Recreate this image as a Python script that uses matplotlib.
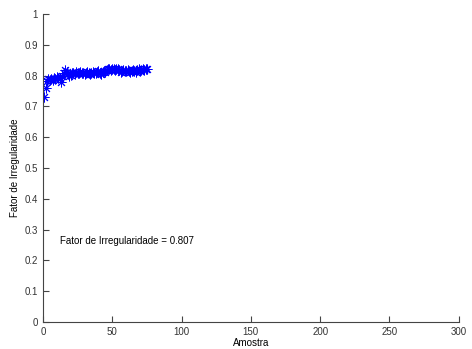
import numpy as np
import matplotlib
matplotlib.use("Agg")
import matplotlib.pyplot as plt

amostra = np.arange(1, 76)
fator = [0.730, 0.760, 0.783, 0.788, 0.785, 0.790, 0.787, 0.792, 0.790, 0.795,
         0.793, 0.792, 0.780, 0.800, 0.808, 0.818, 0.812, 0.805, 0.800, 0.803,
         0.808, 0.810, 0.806, 0.811, 0.809, 0.808, 0.812, 0.807, 0.810, 0.806,
         0.809, 0.812, 0.808, 0.805, 0.810, 0.813, 0.809, 0.807, 0.812, 0.815,
         0.810, 0.806, 0.811, 0.814, 0.812, 0.818, 0.820, 0.822, 0.819, 0.823,
         0.821, 0.818, 0.822, 0.820, 0.817, 0.812, 0.815, 0.818, 0.816, 0.814,
         0.817, 0.815, 0.812, 0.816, 0.818, 0.815, 0.813, 0.817, 0.820, 0.816,
         0.818, 0.821, 0.819, 0.822, 0.820]
media = 0.807

plt.rcParams["font.family"] = ["Liberation Sans", "DejaVu Sans"]
fig = plt.figure(figsize=(4.72, 3.49), dpi=100)
ax = fig.add_axes([0.091, 0.077, 0.881, 0.883])
# matlab style asterisk
ax.plot(amostra, fator, linestyle="none", marker=(8, 2, 0), color="blue",
        markersize=7, markeredgewidth=0.7)
ax.set_xlim(0, 300)
ax.set_ylim(0, 1)
ax.set_xticks(np.arange(0, 301, 50))
ax.set_yticks(np.arange(0, 1.01, 0.1))
ax.set_yticklabels(["0", "0.1", "0.2", "0.3", "0.4", "0.5", "0.6", "0.7", "0.8", "0.9", "1"])
ax.text(12, 0.263, "Fator de Irregularidade = %.3f" % media, fontsize=7, va="center")
ax.set_xlabel("Amostra", fontsize=7, labelpad=1)
ax.set_ylabel("Fator de Irregularidade", fontsize=7, labelpad=3)
for s in ["top", "right"]:
    ax.spines[s].set_visible(False)
for s in ["left", "bottom"]:
    ax.spines[s].set_color("#444444")
    ax.spines[s].set_linewidth(0.8)
ax.tick_params(direction="in", labelsize=7, length=4, colors="#444444", labelcolor="#333333")
fig.savefig("out.png", dpi=100)
